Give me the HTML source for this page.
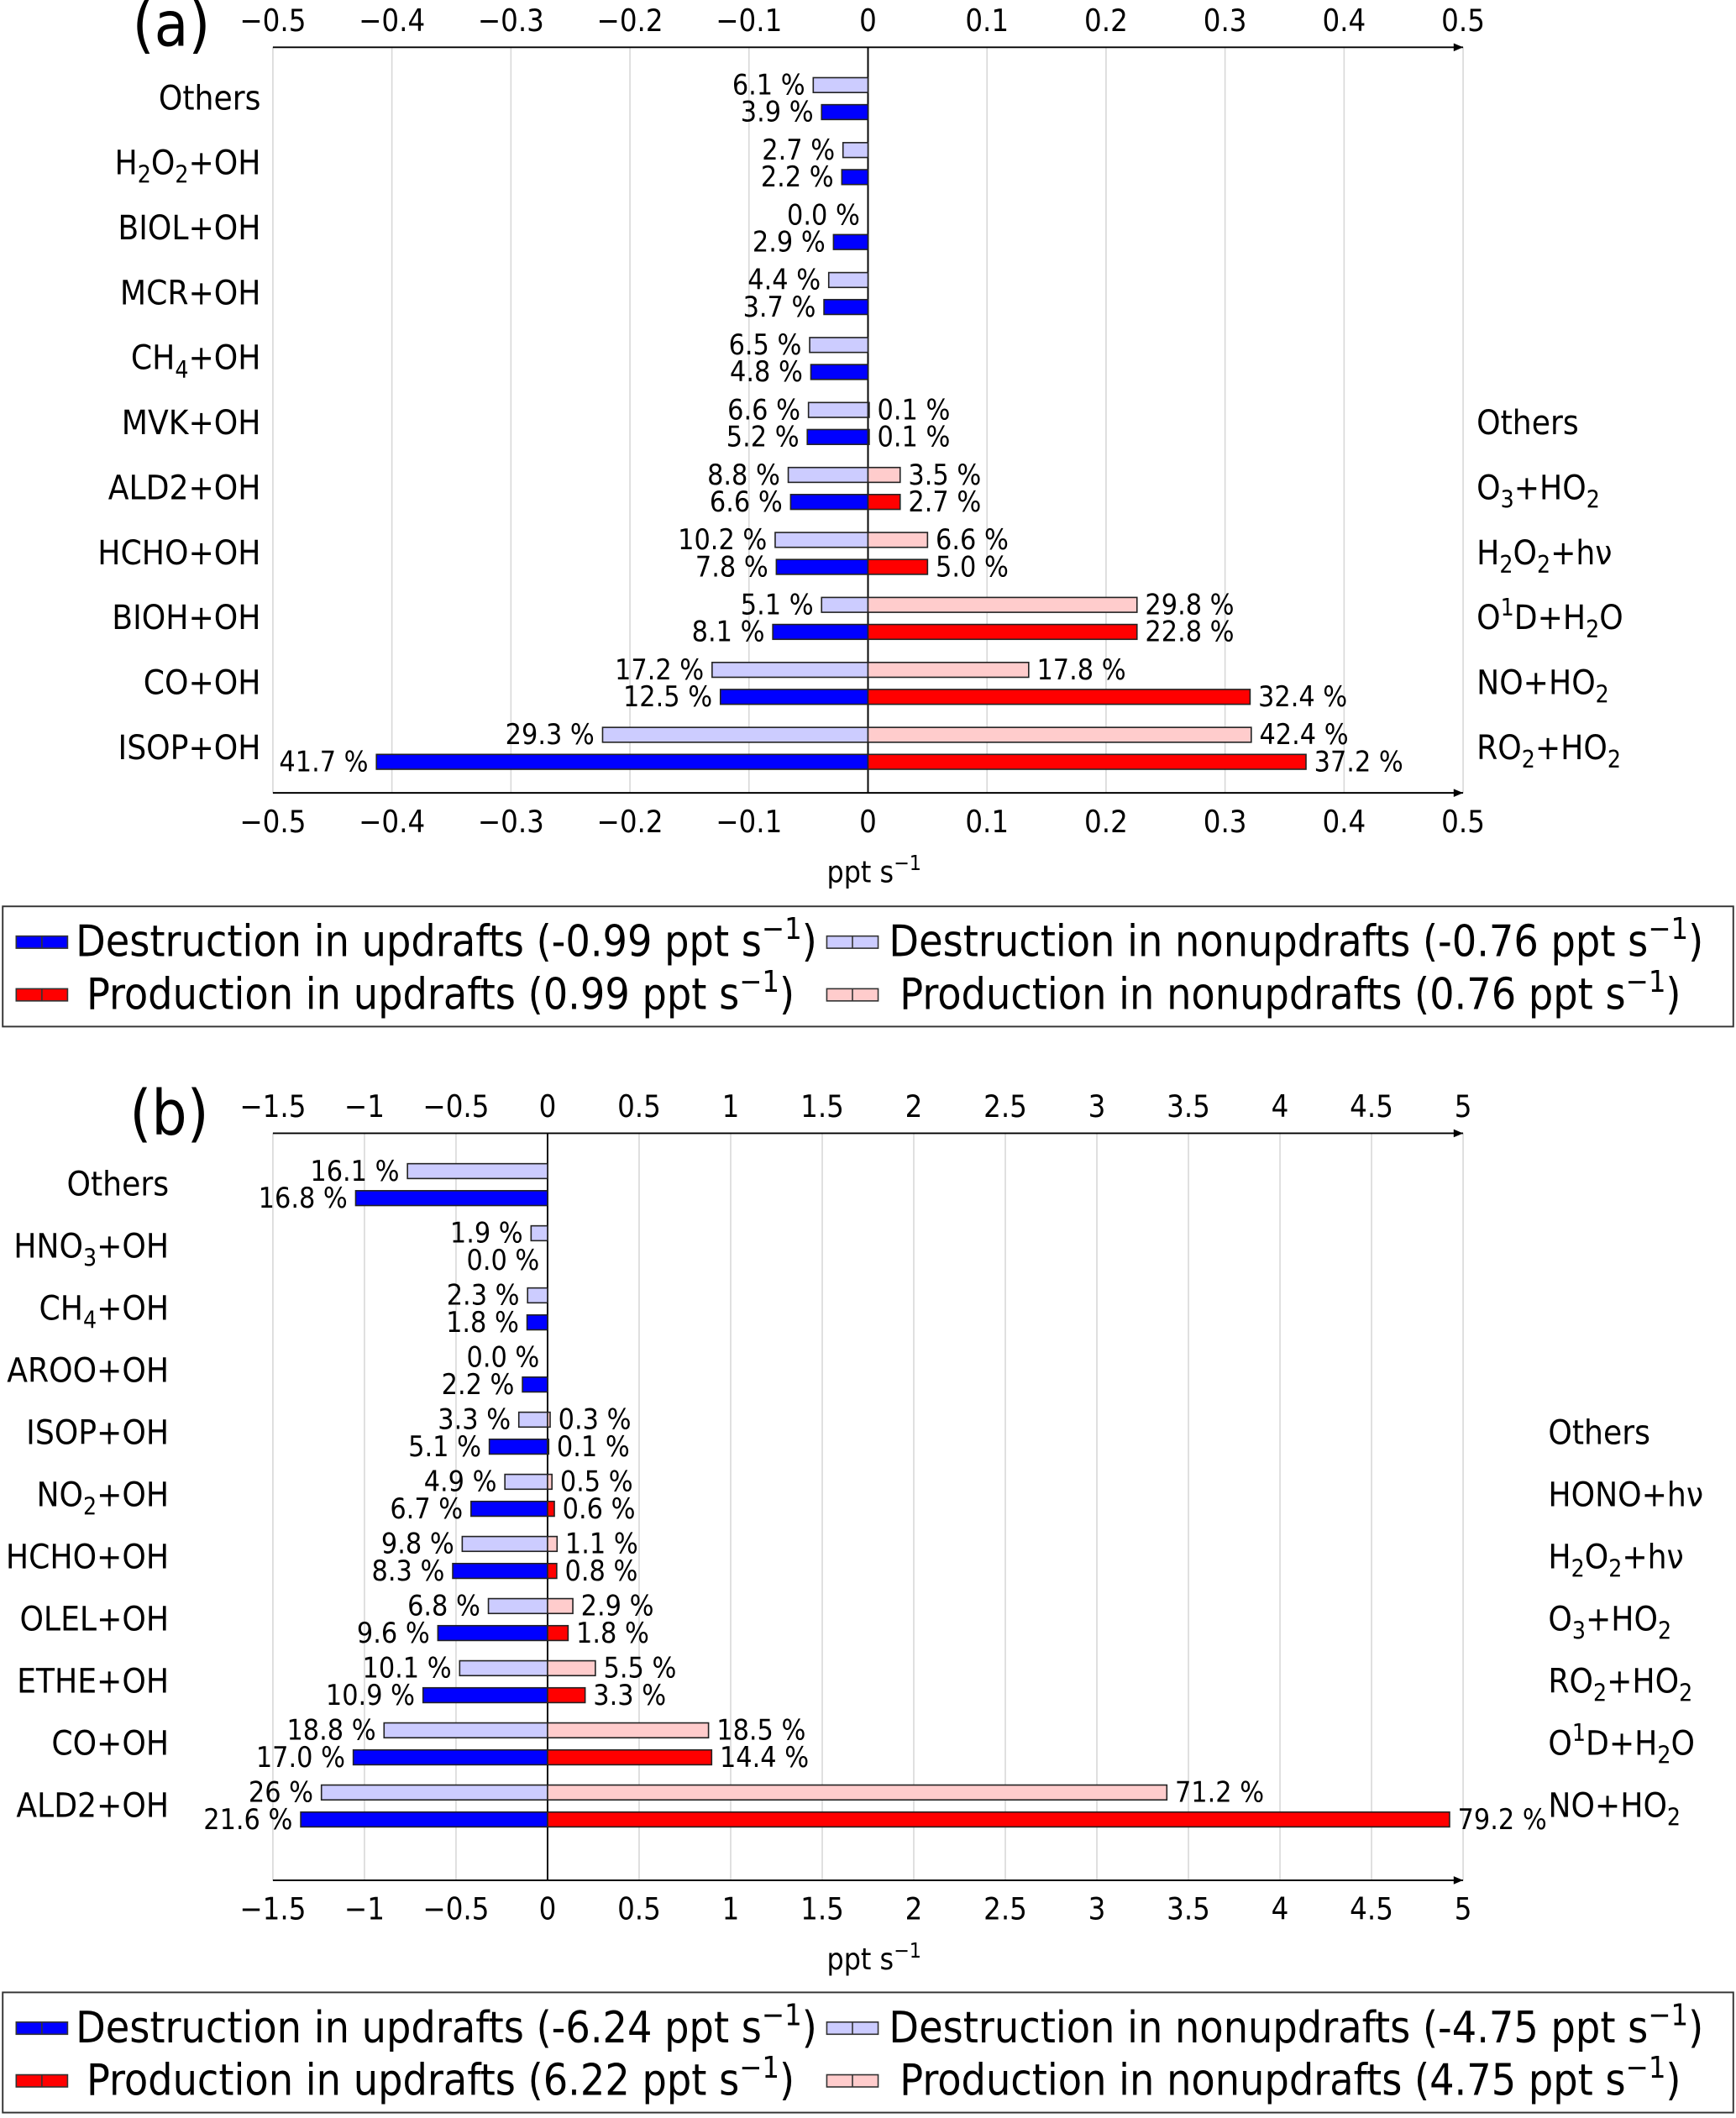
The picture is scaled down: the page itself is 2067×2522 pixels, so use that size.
<!DOCTYPE html>
<html><head><meta charset="utf-8"><style>
html,body{margin:0;padding:0;background:#fff}
svg{display:block}
text{font-family:"DejaVu Sans Condensed","DejaVu Sans","Liberation Sans",sans-serif;fill:#000}
</style></head><body>
<svg id="chart" width="2067" height="2522" viewBox="0 0 1285 1568" preserveAspectRatio="none" xmlns="http://www.w3.org/2000/svg"></svg>
<script>
// Panel (a)
const catsA = ["Others","H<sub>2</sub>O<sub>2</sub>+OH","BIOL+OH","MCR+OH","CH<sub>4</sub>+OH","MVK+OH","ALD2+OH","HCHO+OH","BIOH+OH","CO+OH","ISOP+OH"];
const prodCatsA = ["","","","","","Others","O<sub>3</sub>+HO<sub>2</sub>","H<sub>2</sub>O<sub>2</sub>+hν","O<sup>1</sup>D+H<sub>2</sub>O","NO+HO<sub>2</sub>","RO<sub>2</sub>+HO<sub>2</sub>"];
const dNonA = [0.046,0.021,0,0.033,0.049,0.050,0.067,0.078,0.039,0.131,0.223];
const dNonLblA = ["6.1 %","2.7 %","0.0 %","4.4 %","6.5 %","6.6 %","8.8 %","10.2 %","5.1 %","17.2 %","29.3 %"];
const dUpA = [0.039,0.022,0.029,0.037,0.048,0.051,0.065,0.077,0.080,0.124,0.413];
const dUpLblA = ["3.9 %","2.2 %","2.9 %","3.7 %","4.8 %","5.2 %","6.6 %","7.8 %","8.1 %","12.5 %","41.7 %"];
const pNonA = [null,null,null,null,null,0.001,0.027,0.050,0.226,0.135,0.322];
const pNonLblA = ["","","","","","0.1 %","3.5 %","6.6 %","29.8 %","17.8 %","42.4 %"];
const pUpA = [null,null,null,null,null,0.001,0.027,0.050,0.226,0.321,0.368];
const pUpLblA = ["","","","","","0.1 %","2.7 %","5.0 %","22.8 %","32.4 %","37.2 %"];
const ticksA = [-0.5,-0.4,-0.3,-0.2,-0.1,0,0.1,0.2,0.3,0.4,0.5];
const tickLblA = ["−0.5","−0.4","−0.3","−0.2","−0.1","0","0.1","0.2","0.3","0.4","0.5"];
const legendA = ["(-0.99 ppt s<sup>−1</sup>)","(-0.76 ppt s<sup>−1</sup>)","(0.99 ppt s<sup>−1</sup>)","(0.76 ppt s<sup>−1</sup>)"];
// Panel (b)
const catsB = ["Others","HNO<sub>3</sub>+OH","CH<sub>4</sub>+OH","AROO+OH","ISOP+OH","NO<sub>2</sub>+OH","HCHO+OH","OLEL+OH","ETHE+OH","CO+OH","ALD2+OH"];
const prodCatsB = ["","","","","Others","HONO+hν","H<sub>2</sub>O<sub>2</sub>+hν","O<sub>3</sub>+HO<sub>2</sub>","RO<sub>2</sub>+HO<sub>2</sub>","O<sup>1</sup>D+H<sub>2</sub>O","NO+HO<sub>2</sub>"];
const dNonB = [0.765,0.090,0.109,0,0.157,0.233,0.466,0.323,0.480,0.893,1.235];
const dNonLblB = ["16.1 %","1.9 %","2.3 %","0.0 %","3.3 %","4.9 %","9.8 %","6.8 %","10.1 %","18.8 %","26 %"];
const dUpB = [1.048,0,0.112,0.137,0.318,0.418,0.518,0.599,0.680,1.061,1.348];
const dUpLblB = ["16.8 %","0.0 %","1.8 %","2.2 %","5.1 %","6.7 %","8.3 %","9.6 %","10.9 %","17.0 %","21.6 %"];
const pNonB = [null,null,null,null,0.014,0.024,0.052,0.138,0.261,0.879,3.382];
const pNonLblB = ["","","","","0.3 %","0.5 %","1.1 %","2.9 %","5.5 %","18.5 %","71.2 %"];
const pUpB = [null,null,null,null,0.006,0.037,0.050,0.112,0.205,0.896,4.926];
const pUpLblB = ["","","","","0.1 %","0.6 %","0.8 %","1.8 %","3.3 %","14.4 %","79.2 %"];
const ticksB = [-1.5,-1,-0.5,0,0.5,1,1.5,2,2.5,3,3.5,4,4.5,5];
const tickLblB = ["−1.5","−1","−0.5","0","0.5","1","1.5","2","2.5","3","3.5","4","4.5","5"];
const legendB = ["(-6.24 ppt s<sup>−1</sup>)","(-4.75 ppt s<sup>−1</sup>)","(6.22 ppt s<sup>−1</sup>)","(4.75 ppt s<sup>−1</sup>)"];

const NS="http://www.w3.org/2000/svg";
const svg=document.getElementById('chart');
function mk(tag,attrs,parent){const e=document.createElementNS(NS,tag);for(const k in attrs)e.setAttribute(k,attrs[k]);(parent||svg).appendChild(e);return e;}
function rich(t,html,size){
  const parts=html.split(/(<su[bp]>.*?<\/su[bp]>)/);
  parts.forEach(p=>{ if(!p)return;
    const m=p.match(/<(su[bp])>(.*?)<\/su[bp]>/);
    if(m){const ts=mk('tspan',{'font-size':size*0.7,'dy':m[1]==='sub'?size*0.25:-size*0.4},t);ts.textContent=m[2];
      const back=mk('tspan',{'dy':m[1]==='sub'?-size*0.25:size*0.4},t);back.textContent='\u200b';}
    else{const ts=mk('tspan',{},t);ts.textContent=p;}
  });
}
function panel(o){
  const g=mk('g',{});
  
  
  const xs=v=>o.x0+(v-o.vmin)/(o.vmax-o.vmin)*(o.x1-o.x0);
  const ys=i=>o.yc0+i*o.step;
  o.ticks.forEach((t,i)=>{
    const gl=mk('line',{x1:xs(t),x2:xs(t),y1:o.top,y2:o.bot,stroke:'#d8d8d8','stroke-width':1},g);
    
    
    const tt=mk('text',{x:xs(t),y:o.top-12,'text-anchor':'middle','font-size':22.5},g);tt.textContent=o.tickLbl[i];
    
    
    const tb=mk('text',{x:xs(t),y:o.bot+29,'text-anchor':'middle','font-size':22.5},g);tb.textContent=o.tickLbl[i];
    
    
  });
  [o.top,o.bot].forEach(y=>{
    const ax=mk('line',{x1:o.x0,x2:o.x1,y1:y,y2:y,stroke:'#000','stroke-width':1.2},g);
    
    
    mk('path',{d:`M${o.x1} ${y} l-7 -3 v6 z`,fill:'#000'},g);
  });
  const zl=mk('line',{x1:xs(0),x2:xs(0),y1:o.top,y2:o.bot,stroke:'#000','stroke-width':1.2},g);
  
  
  const bh=11;
  function bar(v,i,off,fill,lbl,side){
    if(v===null)return;
    const yc=ys(i)+off;
    const x0=xs(0),xv=side<0?xs(-v):xs(v);
    const r=mk('rect',{x:Math.min(x0,xv),y:yc-bh/2,width:Math.abs(xv-x0),height:bh,fill:fill,stroke:'#222','stroke-width':1},g);
    
    
    const t=mk('text',{x:side<0?xv-6:xv+6,y:yc+7,'text-anchor':side<0?'end':'start','font-size':21},g);t.textContent=lbl;
    
    
  }
  o.cats.forEach((c,i)=>{
    bar(o.dNon[i],i,-10,'#ccccff',o.dNonLbl[i],-1);
    bar(o.dUp[i],i,10,'#0000ff',o.dUpLbl[i],-1);
    bar(o.pNon[i],i,-10,'#ffcccc',o.pNonLbl[i],1);
    bar(o.pUp[i],i,10,'#ff0000',o.pUpLbl[i],1);
    const t=mk('text',{x:o.labX,y:ys(i)+8,'text-anchor':'end','font-size':25},g);rich(t,c,25);
    
    
    if(o.pcats[i]){const p=mk('text',{x:o.rlabX,y:ys(i)+8,'text-anchor':'start','font-size':25},g);rich(p,o.pcats[i],25);
      
      }
  });
  const pl=mk('text',{x:o.panX,y:o.panY,'font-size':46},g);pl.textContent=o.panel;
  
  
  const xt=mk('text',{x:647,y:o.bot+66,'text-anchor':'middle','font-size':22},g);rich(xt,'ppt s<sup>−1</sup>',22);
  
  
  const lg=mk('g',{},g);
  
  
  mk('rect',{x:2,y:o.legY,width:1281,height:89,fill:'#fff',stroke:'#333','stroke-width':1.2},lg);
  const names=["Destruction in updrafts ","Destruction in nonupdrafts ","Production in updrafts ","Production in nonupdrafts "];
  const fills=['#0000ff','#ccccff','#ff0000','#ffcccc'];
  const pos=[[12,56,26],[612,658,26],[12,64,65],[612,666,65]];
  names.forEach((n,k)=>{
    const [hx,tx,dy]=pos[k];const y=o.legY+dy;
    const e=mk('g',{},lg);
    
    
    mk('rect',{x:hx,y:y-4,width:38,height:9,fill:fills[k],stroke:'#333','stroke-width':1},e);
    mk('line',{x1:hx+19,x2:hx+19,y1:y-4,y2:y+5,stroke:'#333','stroke-width':1},e);
    const t=mk('text',{x:tx,y:y+11,'font-size':32},e);rich(t,n+o.legend[k],32);
  });
}
panel({name:'panel-a',panel:'(a)',panX:98,panY:34,x0:202,x1:1083,vmin:-0.5,vmax:0.5,top:35,bot:587,yc0:73,step:48.1,labX:193,rlabX:1093,
  cats:catsA,pcats:prodCatsA,dNon:dNonA,dNonLbl:dNonLblA,dUp:dUpA,dUpLbl:dUpLblA,pNon:pNonA,pNonLbl:pNonLblA,pUp:pUpA,pUpLbl:pUpLblA,
  ticks:ticksA,tickLbl:tickLblA,legend:legendA,legY:671});
panel({name:'panel-b',panel:'(b)',panX:96,panY:840,x0:202,x1:1083,vmin:-1.5,vmax:5,top:839,bot:1392,yc0:877,step:46,labX:125,rlabX:1146,
  cats:catsB,pcats:prodCatsB,dNon:dNonB,dNonLbl:dNonLblB,dUp:dUpB,dUpLbl:dUpLblB,pNon:pNonB,pNonLbl:pNonLblB,pUp:pUpB,pUpLbl:pUpLblB,
  ticks:ticksB,tickLbl:tickLblB,legend:legendB,legY:1475});
</script>
</body></html>
